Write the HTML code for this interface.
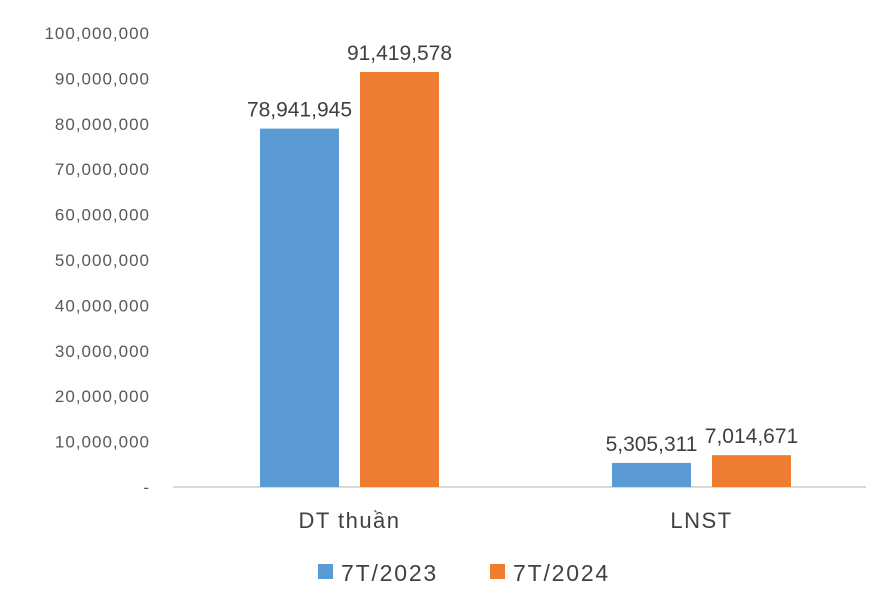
<!DOCTYPE html>
<html><head><meta charset="utf-8"><style>
body{margin:0;background:#fff;}
svg{display:block;font-family:"Liberation Sans",sans-serif;}
</style></head><body>
<svg id="chart" width="888" height="598" viewBox="0 0 888 598" xmlns="http://www.w3.org/2000/svg"></svg>
<script>
const categories = ["DT thuần", "LNST"];
const series2023 = [78941945, 5305311];
const series2024 = [91419578, 7014671];
const seriesNames = ["7T/2023", "7T/2024"];
const tickValues = [0,10000000,20000000,30000000,40000000,50000000,60000000,70000000,80000000,90000000,100000000];

const NS="http://www.w3.org/2000/svg";
const svg=document.getElementById('chart');
const y0=487, yTop=33, yMax=100000000;
const yScale=v=>y0-(v/yMax)*(y0-yTop);
const groupStart=[260,612];
const barW=79, gap=21;
const colors=["#5b9bd5","#ed7d31"];
function mk(tag,attrs,txt){const e=document.createElementNS(NS,tag);for(const k in attrs)e.setAttribute(k,attrs[k]);if(txt!==undefined)e.textContent=txt;svg.appendChild(e);return e;}
const fmt=v=>v.toLocaleString('en-US');

tickValues.forEach(v=>{
  const t=mk('text',{x:150,y:yScale(v)+6,'text-anchor':'end','font-size':17,'letter-spacing':1,fill:'#595959'},v===0?'-':fmt(v));
  
  
});
const ax=mk('line',{x1:173,x2:866,y1:y0,y2:y0,stroke:'#d9d9d9','stroke-width':2});



[series2023,series2024].forEach((s,si)=>{
  s.forEach((v,ci)=>{
    const x=groupStart[ci]+si*(barW+gap);
    const r=mk('rect',{x:x,y:yScale(v),width:barW,height:y0-yScale(v),fill:colors[si]});
    
    
    const l=mk('text',{x:x+barW/2,y:yScale(v)-12,'text-anchor':'middle','font-size':21,fill:'#404040'},fmt(v));
    
    
  });
});
categories.forEach((c,ci)=>{
  const t=mk('text',{x:groupStart[ci]+barW+gap/2,y:528,'text-anchor':'middle','font-size':22,'letter-spacing':1.5,fill:'#404040'},c);
  
  
});
const legX=[318,490];
seriesNames.forEach((n,i)=>{
  const r=mk('rect',{x:legX[i],y:564,width:15,height:15,fill:colors[i]});
  
  
  const t=mk('text',{x:legX[i]+23,y:581,'font-size':23,'letter-spacing':1.8,fill:'#404040'},n);
  
  
});
</script>
</body></html>
